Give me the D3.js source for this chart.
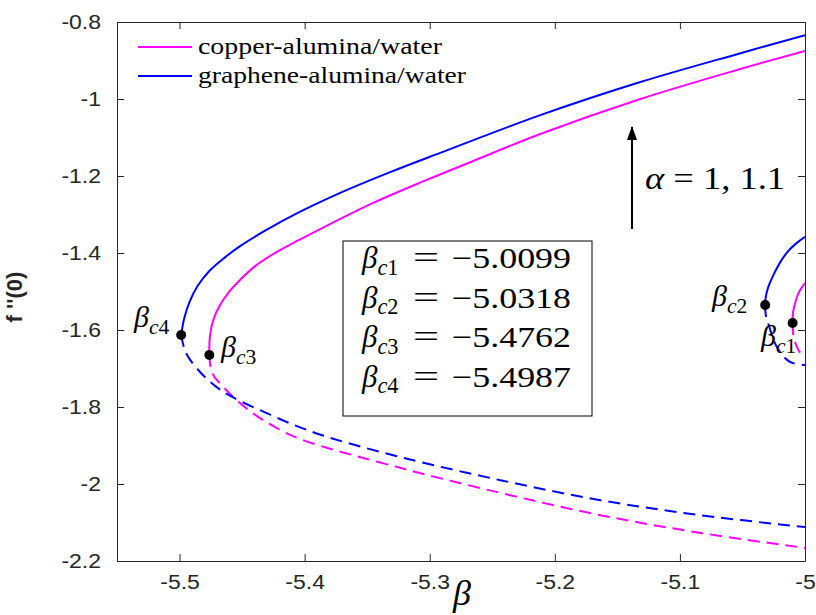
<!DOCTYPE html>
<html>
<head>
<meta charset="utf-8">
<script src="https://cdn.jsdelivr.net/npm/d3@7"></script>
<style>
  body { margin: 0; background: #fff; }
  svg { display: block; }
</style>
</head>
<body>
<svg id="chart" width="816" height="615"></svg>
<script>
// axis settings
const xDomain = [-5.55, -5.0];
const yDomain = [-2.2, -0.8];
const xTicks = [-5.5, -5.4, -5.3, -5.2, -5.1, -5.0];
const yTicks = [-2.2, -2, -1.8, -1.6, -1.4, -1.2, -1, -0.8];

// copper-alumina/water, main branch [beta, f''(0)]
const cuUpper = [[-5.4762, -1.665], [-5.4756, -1.613], [-5.4725, -1.569], [-5.4676, -1.535],
  [-5.4604, -1.501], [-5.4516, -1.470], [-5.4396, -1.434], [-5.4252, -1.403],
  [-5.4052, -1.3675], [-5.3852, -1.334], [-5.3452, -1.270], [-5.3052, -1.214],
  [-5.2652, -1.161], [-5.2116, -1.091], [-5.1316, -1.000], [-5.0516, -0.922], [-5.0, -0.875]];
const cuLower = [[-5.4762, -1.665], [-5.4754, -1.691], [-5.4730, -1.717], [-5.4650, -1.748],
  [-5.4516, -1.790], [-5.4356, -1.829], [-5.4180, -1.862], [-5.3996, -1.888],
  [-5.3236, -1.958], [-5.2436, -2.023], [-5.1636, -2.081], [-5.0836, -2.127],
  [-5.0, -2.166]];
// graphene-alumina/water, main branch
const grUpper = [[-5.4987, -1.613], [-5.4962, -1.569], [-5.4920, -1.527], [-5.4855, -1.485],
  [-5.4760, -1.446], [-5.4640, -1.412], [-5.4516, -1.382], [-5.4316, -1.342],
  [-5.4116, -1.306], [-5.3716, -1.244], [-5.3316, -1.190], [-5.2916, -1.140],
  [-5.2116, -1.042], [-5.1316, -0.956], [-5.0516, -0.881], [-5.0, -0.834]];
const grLower = [[-5.4987, -1.613], [-5.4948, -1.660], [-5.4836, -1.709], [-5.4700, -1.749],
  [-5.4572, -1.775], [-5.4276, -1.820], [-5.4036, -1.853], [-5.3796, -1.880],
  [-5.3236, -1.930], [-5.2436, -1.990], [-5.1636, -2.042], [-5.0836, -2.081],
  [-5.0, -2.112]];
// second solutions close to beta = -5
const cuUpper2 = [[-5.0099, -1.582], [-5.0095, -1.553], [-5.0070, -1.520], [-5.0040, -1.497], [-5.0, -1.478]];
const cuLower2 = [[-5.0099, -1.582], [-5.0093, -1.613], [-5.0070, -1.640], [-5.0040, -1.658], [-5.0, -1.670]];
const grUpper2 = [[-5.0318, -1.535], [-5.0314, -1.515], [-5.0295, -1.490], [-5.0252, -1.457],
  [-5.0200, -1.425], [-5.0140, -1.397], [-5.0070, -1.375], [-5.0, -1.358]];
const grLower2 = [[-5.0318, -1.535], [-5.0314, -1.560], [-5.0290, -1.587], [-5.0220, -1.647],
  [-5.0120, -1.683], [-5.0, -1.691]];

// critical points
const critNames = ["c1", "c2", "c3", "c4"];
const critBeta = [-5.0099, -5.0318, -5.4762, -5.4987];
const critF = [-1.582, -1.535, -1.665, -1.613];
const critText = ["\u22125.0099", "\u22125.0318", "\u22125.4762", "\u22125.4987"];

const seriesNames = ["copper-alumina/water", "graphene-alumina/water"];
const seriesColors = ["#ff00ff", "#0000ff"];

const SANS = "'Liberation Sans', Arimo, Arial, Helvetica, sans-serif";
const SERIF = "'Liberation Serif', Tinos, 'Times New Roman', 'DejaVu Serif', serif";

const margin = {left: 117, top: 22, right: 11, bottom: 54};
const svg = d3.select("#chart");
const W = +svg.attr("width"), H = +svg.attr("height");
const x = d3.scaleLinear().domain(xDomain).range([margin.left, W - margin.right]);
const y = d3.scaleLinear().domain(yDomain).range([H - margin.bottom, margin.top]);

svg.append("clipPath").attr("id", "plot")
  .append("rect").attr("x", x(xDomain[0])).attr("y", y(yDomain[1]))
  .attr("width", x(xDomain[1]) - x(xDomain[0])).attr("height", y(yDomain[0]) - y(yDomain[1]));

const line = d3.line().x(d => x(d[0])).y(d => y(d[1])).curve(d3.curveCatmullRom.alpha(0.5));
const curves = svg.append("g").attr("clip-path", "url(#plot)");

function drawCurve(data, color, dashed) {
  curves.append("path").datum(data)
    .attr("d", line)
    .attr("fill", "none")
    .attr("stroke", color)
    .attr("stroke-width", 2)
    .attr("stroke-dasharray", dashed ? "12,7" : null);
}
drawCurve(cuUpper, seriesColors[0], false);
drawCurve(cuLower, seriesColors[0], true);
drawCurve(grUpper, seriesColors[1], false);
drawCurve(grLower, seriesColors[1], true);
drawCurve(cuUpper2, seriesColors[0], false);
drawCurve(cuLower2, seriesColors[0], true);
drawCurve(grUpper2, seriesColors[1], false);
drawCurve(grLower2, seriesColors[1], true);

// axes, ticks pointing inward on all sides
const axisColor = "#262626";
const fmt = d => String(d);  // plain hyphen like the original
function styleAxis(g) {
  g.attr("font-family", SANS).attr("font-size", 20);
  g.select(".domain").attr("stroke", axisColor);
  g.selectAll(".tick line").attr("stroke", axisColor);
  g.selectAll(".tick text").attr("fill", axisColor);
}
const xb = svg.append("g").attr("transform", `translate(0,${y(yDomain[0])})`)
  .call(d3.axisBottom(x).tickValues(xTicks).tickSizeInner(-7).tickSizeOuter(0).tickPadding(14).tickFormat(fmt));
const xt = svg.append("g").attr("transform", `translate(0,${y(yDomain[1])})`)
  .call(d3.axisTop(x).tickValues(xTicks).tickSizeInner(-7).tickSizeOuter(0).tickFormat(""));
const yl = svg.append("g").attr("transform", `translate(${x(xDomain[0])},0)`)
  .call(d3.axisLeft(y).tickValues(yTicks).tickSizeInner(-7).tickSizeOuter(0).tickPadding(16).tickFormat(fmt));
const yr = svg.append("g").attr("transform", `translate(${x(xDomain[1])},0)`)
  .call(d3.axisRight(y).tickValues(yTicks).tickSizeInner(-7).tickSizeOuter(0).tickFormat(""));
[xb, xt, yl, yr].forEach(styleAxis);
// the original figure is a little wider than tall, glyphs included
svg.selectAll(".tick text").each(function () {
  const t = d3.select(this);
  if (!t.text()) return;
  t.attr("textLength", this.getComputedTextLength() * 1.15).attr("lengthAdjust", "spacingAndGlyphs");
});

// axis titles
svg.append("text")
  .attr("x", 462).attr("y", 605).attr("text-anchor", "middle")
  .attr("font-family", SERIF).attr("font-size", 36).attr("font-style", "italic").text("\u03b2");
svg.append("text")
  .attr("transform", "translate(22,297) rotate(-90)")
  .attr("text-anchor", "middle")
  .attr("font-family", SANS)
  .attr("font-weight", "bold").attr("font-size", 22).attr("fill", axisColor)
  .text("f ''(0)");

// beta_c label helper
function betaLabel(g, px, py, sub, size) {
  const t = g.append("text").attr("x", px).attr("y", py)
    .attr("font-family", SERIF).attr("font-size", size).attr("fill", "#000");
  t.append("tspan").attr("font-style", "italic").text("\u03b2");
  t.append("tspan").attr("font-style", "italic").attr("font-size", size * 0.72).attr("dy", size * 0.22).text(sub[0]);
  t.append("tspan").attr("font-size", size * 0.72).text(sub.slice(1));
  return t;
}

// critical points and their labels
const labelPos = [[761, 346], [712, 306], [221, 357], [134, 327]];
const marks = svg.append("g");
critBeta.forEach((b, i) => {
  marks.append("circle").attr("cx", x(b)).attr("cy", y(critF[i])).attr("r", 5).attr("fill", "#000");
  betaLabel(marks, labelPos[i][0], labelPos[i][1], critNames[i], 30);
});

// value box
const box = svg.append("g");
box.append("rect").attr("x", 343).attr("y", 241).attr("width", 249).attr("height", 175)
  .attr("fill", "#fff").attr("stroke", "#000").attr("stroke-width", 1);
critNames.forEach((c, i) => {
  const by = 268 + i * 39.5;
  betaLabel(box, 362, by, c, 31);
  box.append("text").attr("font-family", SERIF).attr("x", 413).attr("y", by).attr("font-size", 32)
    .attr("textLength", 26).attr("lengthAdjust", "spacingAndGlyphs").text("=");
  box.append("text").attr("font-family", SERIF).attr("x", 452).attr("y", by).attr("font-size", 30)
    .attr("textLength", 119).attr("lengthAdjust", "spacingAndGlyphs").text(critText[i]);
});

// alpha arrow
svg.append("defs").append("marker").attr("id", "head")
  .attr("viewBox", "0 0 14 10").attr("refX", 13).attr("refY", 5)
  .attr("markerWidth", 14).attr("markerHeight", 10).attr("markerUnits", "userSpaceOnUse").attr("orient", "auto")
  .append("path").attr("d", "M0,0 L14,5 L0,10 z").attr("fill", "#000");
svg.append("line").attr("x1", 632).attr("y1", 229).attr("x2", 632).attr("y2", 127)
  .attr("stroke", "#000").attr("stroke-width", 2).attr("marker-end", "url(#head)");
svg.append("text").attr("font-family", SERIF).attr("x", 645).attr("y", 189).attr("font-size", 31)
  .attr("textLength", 140).attr("lengthAdjust", "spacingAndGlyphs")
  .html('<tspan font-style="italic">\u03b1</tspan> = 1, 1.1');

// legend
const legend = svg.append("g");
seriesNames.forEach((n, i) => {
  const ly = 47 + i * 29;
  legend.append("line").attr("x1", 138).attr("x2", 192).attr("y1", ly).attr("y2", ly)
    .attr("stroke", seriesColors[i]).attr("stroke-width", 2);
  legend.append("text").attr("font-family", SERIF).attr("x", 198).attr("y", ly + 7)
    .attr("font-size", 23).attr("fill", "#000")
    .attr("textLength", i ? 268 : 244).attr("lengthAdjust", "spacingAndGlyphs").text(n);
});
</script>
</body>
</html>
